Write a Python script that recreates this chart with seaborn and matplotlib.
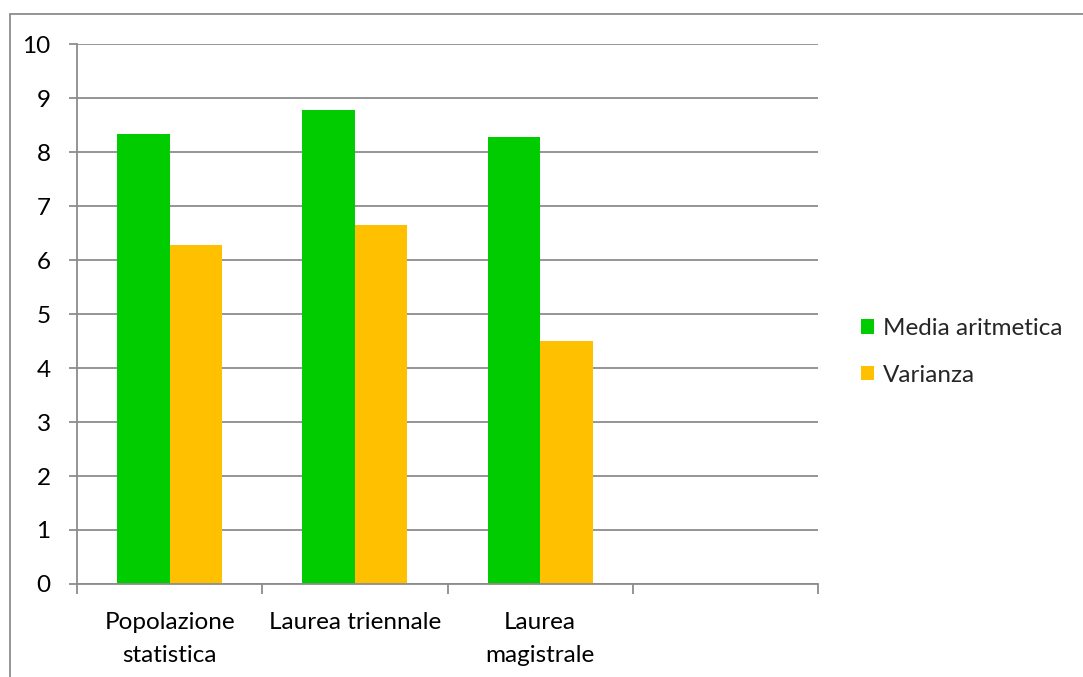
import matplotlib
matplotlib.use("Agg")
import matplotlib.pyplot as plt
from matplotlib.patches import Rectangle, Patch
import seaborn as sns
import pandas as pd

categories = ["Popolazione\nstatistica", "Laurea triennale", "Laurea\nmagistrale"]
series_names = ["Media aritmetica", "Varianza"]
media = [8.33, 8.77, 8.28]
varianza = [6.28, 6.65, 4.50]
colors = ["#00CC00", "#FFC000"]
y_ticks = list(range(0, 11))

df = pd.DataFrame({
    "categoria": categories * 2,
    "serie": [series_names[0]] * 3 + [series_names[1]] * 3,
    "valore": media + varianza,
})

sns.set_theme(style="white")
plt.rcParams["font.family"] = ["Lato", "DejaVu Sans"]
FS = 17.5

fig = plt.figure(figsize=(10.83, 6.77), dpi=100)
ax = fig.add_axes([77 / 1083, 1 - 584 / 677, (818 - 77) / 1083, (584 - 44) / 677])

sns.barplot(data=df, x="categoria", y="valore", hue="serie", order=categories,
            hue_order=series_names, palette=colors, width=0.567, saturation=1,
            linewidth=0, ax=ax, legend=False)

grid_c = "#8c8c8c"
ax.set_xlim(-0.5, 3.5)
ax.set_ylim(0, 10)
ax.set_yticks(y_ticks)
ax.set_yticklabels([str(v) for v in y_ticks], fontsize=FS, color="black")
ax.yaxis.grid(True, color=grid_c, linewidth=1.3)
ax.set_axisbelow(True)

# category boundaries as major ticks, labels centred on minor ticks
ax.set_xticks([-0.5, 0.5, 1.5, 2.5, 3.5])
ax.set_xticklabels([])
ax.set_xticks([0, 1, 2], minor=True)
ax.set_xticklabels(categories, minor=True, fontsize=FS, color="black",
                   linespacing=1.7)
ax.tick_params(axis="x", which="major", direction="out", length=7, width=1.3,
               color=grid_c, bottom=True)
ax.tick_params(axis="x", which="minor", length=0, pad=20)
ax.tick_params(axis="y", direction="out", length=6, width=1.3, color=grid_c,
               left=True, pad=13)
ax.set_xlabel("")
ax.set_ylabel("")

for side in ["top", "right"]:
    ax.spines[side].set_visible(False)
for side in ["left", "bottom"]:
    ax.spines[side].set_color(grid_c)
    ax.spines[side].set_linewidth(1.3)

handles = [Patch(facecolor=c, edgecolor="none") for c in colors]
fig.legend(handles, series_names, loc="center left",
           bbox_to_anchor=(839 / 1083, 1 - 352 / 677), frameon=False,
           fontsize=FS, handlelength=0.55, handleheight=0.55, handletextpad=0.35,
           labelspacing=1.05)

# outer chart frame
fig.patches.append(Rectangle((10 / 1083, -0.05), 1.2, 1.05 - 14 / 677,
                             transform=fig.transFigure, fill=False,
                             edgecolor="#8c8c8c", linewidth=1.3))

fig.savefig("out.png", dpi=100)
